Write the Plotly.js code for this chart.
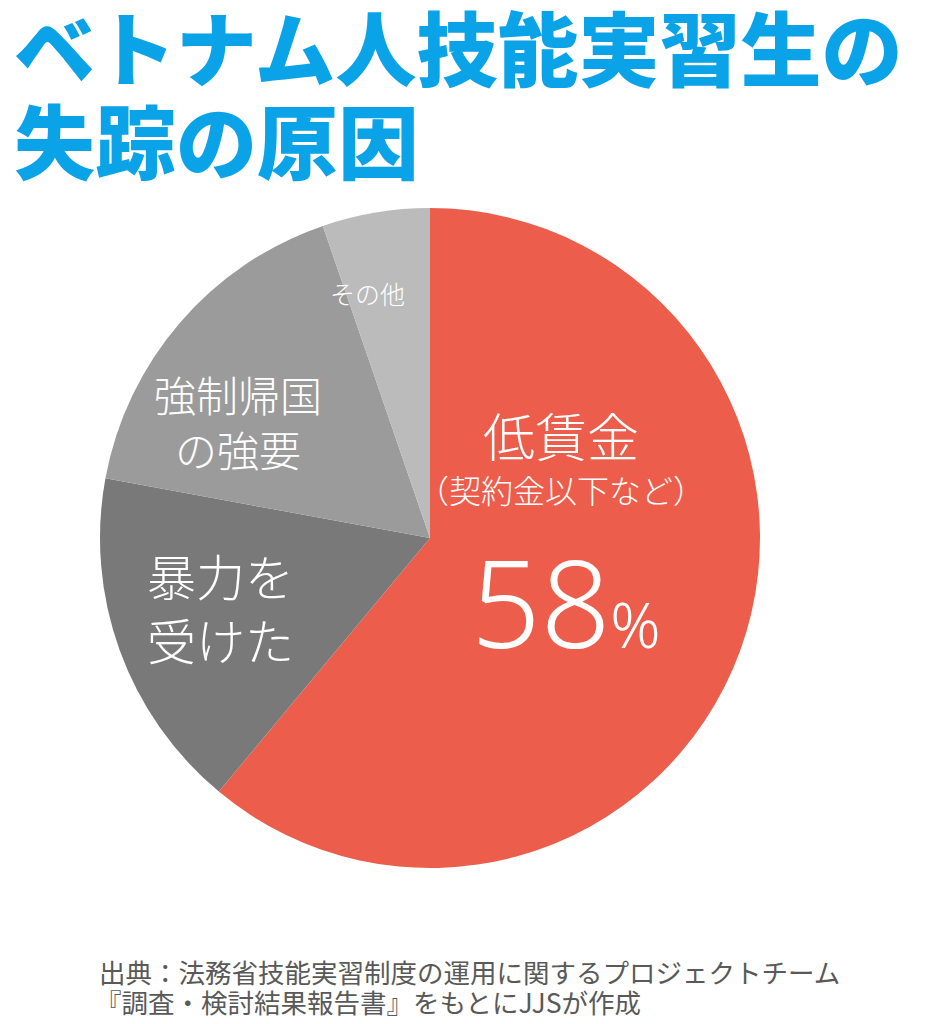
<!DOCTYPE html>
<html>
<head>
<meta charset="utf-8">
<script src="https://cdn.plot.ly/plotly-3.0.1.min.js"></script>
<style>html,body{margin:0;padding:0;background:#fff;}#chart{width:939px;height:1024px;}</style>
</head>
<body>
<div id="chart"></div>
<script>
const categories = ["低賃金", "暴力を受けた", "強制帰国の強要", "その他"];
const values = [58, 16, 16, 5];
const colors = ["#EC5E4B", "#797979", "#9B9B9B", "#BBBBBB"];
const titleLines = ["ベトナム人技能実習生の", "失踪の原因"];
const sourceLines = ["出典：法務省技能実習制度の運用に関するプロジェクトチーム", "『調査・検討結果報告書』をもとにJJSが作成"];

const W = 939, H = 1024;
const px = x => x / W;
const py = y => 1 - y / H;
const JP = '"Noto Sans CJK JP", "Noto Sans", sans-serif';

const trace = {
  type: 'pie',
  labels: categories,
  values: values,
  sort: false,
  direction: 'clockwise',
  rotation: 0,
  textinfo: 'none',
  hoverinfo: 'label+value',
  marker: {colors: colors, line: {width: 0}},
  domain: {x: [px(100), px(760)], y: [py(868), py(208)]},
  showlegend: false
};

function ann(text, x, y, size, opts) {
  return Object.assign({
    text: text, x: px(x), y: py(y), xref: 'paper', yref: 'paper',
    xanchor: 'center', yanchor: 'middle', showarrow: false,
    font: {family: JP, size: size, color: '#ffffff', weight: 300}
  }, opts || {});
}

const titleFont = {family: JP, size: 81, color: '#0BA3E8', weight: 900};
const srcFont = {family: JP, size: 26.5, color: '#595959', weight: 400};

const annotations = [
  ann(titleLines[0], 12, 44, 81, {xanchor: 'left', font: titleFont}),
  ann(titleLines[1], 12, 137, 81, {xanchor: 'left', font: titleFont}),
  ann("その他", 367, 293, 25),
  ann("強制帰国<br>の強要", 238, 421, 42),
  ann("暴力を<br>受けた", 220, 606, 49),
  ann("低賃金", 561, 434, 52),
  ann("（契約金以下など）", 561, 489, 32),
  ann('58<span style="font-size:62px">%</span>', 566, 601, 122, {font: {family: '"Noto Sans", "Noto Sans CJK JP", sans-serif', size: 122, color: '#ffffff', weight: 300}}),
  ann(sourceLines[0], 97, 971, 26.5, {xanchor: 'left', font: srcFont}),
  ann(sourceLines[1], 93, 1001, 26.5, {xanchor: 'left', font: srcFont})
];

const layout = {
  width: W, height: H,
  margin: {l: 0, r: 0, t: 0, b: 0},
  paper_bgcolor: '#ffffff',
  plot_bgcolor: '#ffffff',
  showlegend: false,
  annotations: annotations
};

Plotly.newPlot('chart', [trace], layout, {displayModeBar: false, staticPlot: true});
</script>
</body>
</html>
